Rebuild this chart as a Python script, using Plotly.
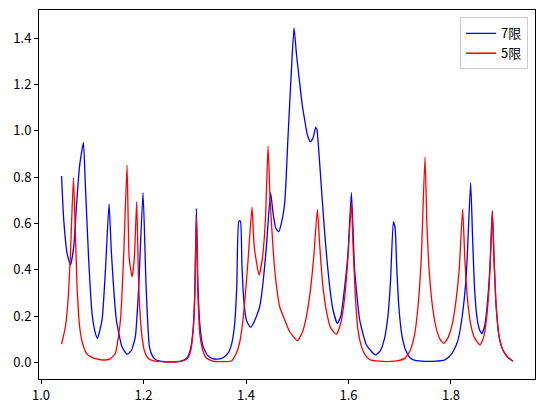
import plotly.graph_objects as go

# 7限 (blue)
x7 = [1.040, 1.0443, 1.0508, 1.0573, 1.0638, 1.069, 1.075, 1.0788, 1.0827, 1.0866,
      1.093, 1.0995, 1.105, 1.110, 1.119, 1.1257, 1.1327, 1.1374, 1.147, 1.158,
      1.1678, 1.176, 1.184, 1.1906, 1.199, 1.205, 1.2115, 1.218, 1.225, 1.240,
      1.260, 1.275, 1.285, 1.292, 1.297, 1.300, 1.3032, 1.306, 1.310, 1.316,
      1.325, 1.335, 1.345, 1.355, 1.365, 1.372, 1.378, 1.382, 1.386, 1.389,
      1.392, 1.396, 1.401, 1.4086, 1.416, 1.4267, 1.432, 1.4398, 1.448, 1.453,
      1.458, 1.4638, 1.469, 1.4755, 1.482, 1.4886, 1.4937, 1.4983, 1.5048, 1.5093,
      1.5145, 1.5198, 1.5257, 1.531, 1.536, 1.5385, 1.5405, 1.547, 1.5536, 1.5633,
      1.5698, 1.5783, 1.585, 1.5926, 1.599, 1.6057, 1.612, 1.6219, 1.635, 1.6525,
      1.662, 1.670, 1.677, 1.682, 1.6876, 1.691, 1.694, 1.698, 1.704, 1.712,
      1.720, 1.730, 1.750, 1.770, 1.787, 1.797, 1.805, 1.8137, 1.822, 1.830,
      1.8384, 1.842, 1.846, 1.851, 1.856, 1.8605, 1.866, 1.872, 1.877, 1.8807,
      1.884, 1.888, 1.894, 1.902, 1.912, 1.921]
y7 = [0.805, 0.615, 0.471, 0.420, 0.500, 0.672, 0.845, 0.903, 0.950, 0.759,
      0.442, 0.212, 0.135, 0.104, 0.183, 0.400, 0.684, 0.470, 0.183, 0.067,
      0.035, 0.050, 0.110, 0.327, 0.734, 0.327, 0.067, 0.025, 0.010, 0.003,
      0.002, 0.006, 0.020, 0.060, 0.150, 0.300, 0.665, 0.350, 0.160, 0.070,
      0.030, 0.016, 0.014, 0.020, 0.040, 0.080, 0.170, 0.330, 0.610, 0.610,
      0.420, 0.260, 0.180, 0.151, 0.175, 0.240, 0.320, 0.500, 0.733, 0.640,
      0.580, 0.564, 0.600, 0.687, 0.975, 1.263, 1.445, 1.335, 1.205, 1.119,
      1.047, 0.982, 0.953, 0.970, 1.015, 1.005, 0.960, 0.758, 0.557, 0.327,
      0.226, 0.168, 0.200, 0.327, 0.471, 0.733, 0.400, 0.183, 0.075, 0.032,
      0.050, 0.100, 0.200, 0.350, 0.607, 0.580, 0.420, 0.250, 0.120, 0.050,
      0.020, 0.008, 0.004, 0.005, 0.010, 0.025, 0.050, 0.096, 0.200, 0.380,
      0.776, 0.550, 0.320, 0.190, 0.140, 0.125, 0.160, 0.280, 0.450, 0.655,
      0.450, 0.250, 0.110, 0.050, 0.020, 0.005]

# 5限 (red)
x5 = [1.040, 1.0476, 1.053, 1.0574, 1.0632, 1.0665, 1.0703, 1.075, 1.080, 1.0886,
      1.100, 1.115, 1.1257, 1.135, 1.145, 1.155, 1.1614, 1.1678, 1.172, 1.1776,
      1.182, 1.1867, 1.1906, 1.197, 1.203, 1.210, 1.220, 1.240, 1.270, 1.285,
      1.292, 1.297, 1.300, 1.3032, 1.306, 1.310, 1.316, 1.322, 1.335, 1.355,
      1.3715, 1.381, 1.388, 1.394, 1.399, 1.404, 1.4117, 1.416, 1.4254, 1.432,
      1.438, 1.443, 1.447, 1.452, 1.456, 1.4658, 1.4755, 1.4853, 1.5003, 1.510,
      1.518, 1.525, 1.532, 1.5393, 1.544, 1.550, 1.557, 1.565, 1.5764, 1.585,
      1.592, 1.598, 1.6057, 1.609, 1.613, 1.618, 1.625, 1.633, 1.6414, 1.660,
      1.690, 1.7097, 1.720, 1.729, 1.736, 1.742, 1.7493, 1.753, 1.758, 1.764,
      1.772, 1.780, 1.7863, 1.795, 1.803, 1.810, 1.816, 1.8228, 1.827, 1.832,
      1.838, 1.845, 1.8566, 1.864, 1.870, 1.875, 1.8807, 1.884, 1.888, 1.894,
      1.902, 1.912, 1.921]
y5 = [0.079, 0.154, 0.280, 0.470, 0.797, 0.600, 0.327, 0.160, 0.090, 0.039,
      0.020, 0.012, 0.010, 0.015, 0.039, 0.183, 0.470, 0.852, 0.450, 0.370,
      0.450, 0.694, 0.327, 0.110, 0.040, 0.015, 0.006, 0.002, 0.003, 0.015,
      0.050, 0.140, 0.280, 0.629, 0.300, 0.120, 0.050, 0.020, 0.005, 0.003,
      0.006, 0.039, 0.090, 0.183, 0.300, 0.442, 0.670, 0.500, 0.377, 0.450,
      0.620, 0.934, 0.700, 0.520, 0.399, 0.240, 0.183, 0.132, 0.093, 0.130,
      0.200, 0.300, 0.450, 0.661, 0.500, 0.330, 0.220, 0.150, 0.121, 0.170,
      0.270, 0.420, 0.687, 0.500, 0.300, 0.150, 0.070, 0.030, 0.012, 0.005,
      0.005, 0.017, 0.050, 0.120, 0.250, 0.450, 0.886, 0.600, 0.380, 0.240,
      0.140, 0.095, 0.082, 0.110, 0.170, 0.270, 0.400, 0.662, 0.450, 0.280,
      0.170, 0.110, 0.075, 0.110, 0.200, 0.350, 0.651, 0.450, 0.250, 0.110,
      0.050, 0.020, 0.005]

fig = go.Figure()
fig.add_trace(go.Scatter(x=x7, y=y7, mode='lines', name='7限',
                         line=dict(color='blue', width=1.3, shape='spline', smoothing=0.5)))
fig.add_trace(go.Scatter(x=x5, y=y5, mode='lines', name='5限',
                         line=dict(color='red', width=1.3, shape='spline', smoothing=0.5)))

axis_style = dict(showline=True, linecolor='black', linewidth=1, mirror=True,
                  showgrid=False, zeroline=False, ticks='outside', ticklen=4,
                  tickcolor='black', tickformat='.1f', automargin=False,
                  tickfont=dict(size=13, color='black'))

fig.update_xaxes(range=[0.996, 1.964], dtick=0.2, tick0=1.0, **axis_style)
fig.update_yaxes(range=[-0.072, 1.522], dtick=0.2, tick0=0.0, **axis_style)

# page body adds 8px, so the figure is a bit smaller than the window
fig.update_layout(width=537, height=407,
                  margin=dict(l=31, r=10, t=2, b=36),
                  plot_bgcolor='white', paper_bgcolor='white',
                  font=dict(family='Noto Sans CJK SC, DejaVu Sans', color='black'),
                  showlegend=True,
                  legend=dict(x=0.986, y=0.98, xanchor='right', yanchor='top',
                              bgcolor='rgba(255,255,255,0.8)',
                              bordercolor='#cccccc', borderwidth=1,
                              tracegroupgap=4, font=dict(size=13)))

fig.write_html("out.html")
